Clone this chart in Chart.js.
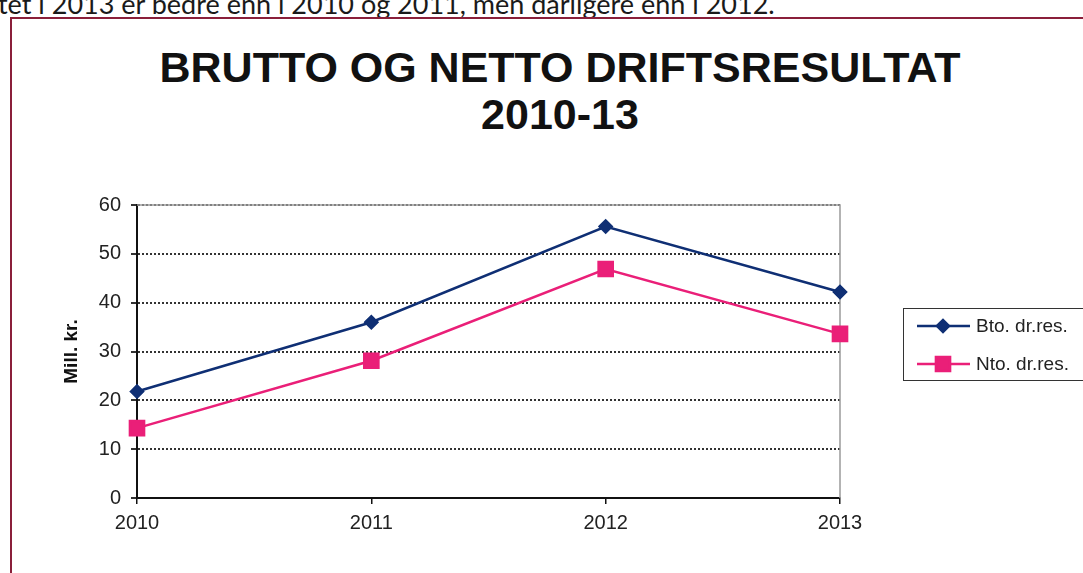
<!DOCTYPE html>
<html>
<head>
<meta charset="utf-8">
<script src="https://cdn.jsdelivr.net/npm/chart.js@4/dist/chart.umd.min.js"></script>
<style>
  body { margin: 0; background: #fff; }
  #page { position: relative; width: 1083px; height: 573px; overflow: hidden; }
  #intro {
    position: absolute; left: -2px; top: -10px; white-space: nowrap;
    font-family: Lato, 'Open Sans', sans-serif; font-size: 27px; line-height: 27px; color: #1a1a1a;
  }
  #frame {
    position: absolute; left: 10px; top: 17px; width: 1100px; height: 600px;
    border-left: 2px solid #8a1f3a; border-top: 2px solid #8a1f3a;
  }
  #title {
    position: absolute; left: 0; top: 44px; width: 1120px; text-align: center;
    font-family: 'Liberation Sans', Arial, sans-serif; font-weight: bold; font-size: 43px; line-height: 47px; color: #111;
  }
  #wrap { position: absolute; left: 0; top: 0; width: 1083px; height: 573px; }
</style>
</head>
<body>
<div id="page">
  <div id="intro">tet i 2013 er bedre enn i 2010 og 2011, men dårligere enn i 2012.</div>
  <div id="frame"></div>
  <div id="title">BRUTTO OG NETTO DRIFTSRESULTAT<br>2010-13</div>
  <div id="wrap"><canvas id="myChart"></canvas></div>
</div>
<script>
// Data
const years = ['2010', '2011', '2012', '2013']
const brutto = [21.8, 36.0, 55.6, 42.2]
const netto = [14.3, 28.1, 46.9, 33.6]
const seriesNames = ['Bto. dr.res.', 'Nto. dr.res.']
const yAxisTitle = 'Mill. kr.'

const FONT = "'Liberation Sans', Arial, sans-serif"

// Grey frame around the plot area (top and right)
const plotBorder = {
  id: 'plotBorder',
  beforeDatasetsDraw(chart) {
    const { ctx, chartArea: a } = chart
    ctx.save()
    ctx.strokeStyle = '#9a9a9a'
    ctx.lineWidth = 1.5
    ctx.beginPath()
    ctx.moveTo(a.left, a.top)
    ctx.lineTo(a.right, a.top)
    ctx.lineTo(a.right, a.bottom)
    ctx.stroke()
    ctx.restore()
  }
}

// Legend box with line + marker samples
const boxLegend = {
  id: 'boxLegend',
  afterDraw(chart) {
    const { ctx, chartArea: a } = chart
    const x0 = a.right + 63
    const y0 = 308
    ctx.save()
    ctx.strokeStyle = '#333'
    ctx.lineWidth = 1
    ctx.strokeRect(x0 + 0.5, y0 + 0.5, 200, 72)
    chart.data.datasets.forEach((ds, i) => {
      const y = y0 + 18 + i * 38
      ctx.strokeStyle = ds.borderColor
      ctx.lineWidth = 2.5
      ctx.beginPath()
      ctx.moveTo(x0 + 14, y)
      ctx.lineTo(x0 + 67, y)
      ctx.stroke()
      ctx.fillStyle = ds.backgroundColor
      Chart.helpers.drawPoint(ctx, {
        pointStyle: ds.pointStyle, radius: ds.pointRadius, borderWidth: 1, rotation: 0
      }, x0 + 40, y)
      ctx.fillStyle = '#222'
      ctx.font = '19px ' + FONT
      ctx.textBaseline = 'middle'
      ctx.fillText(ds.label, x0 + 73, y + 1)
    })
    ctx.restore()
  }
}

const ctx = document.getElementById('myChart').getContext('2d')
const myChart = new Chart(ctx, {
  type: 'line',
  data: {
    labels: years,
    datasets: [
      {
        label: seriesNames[0],
        data: brutto,
        borderColor: '#0f2f74',
        backgroundColor: '#0f2f74',
        borderWidth: 2.5,
        pointStyle: 'rectRot',
        pointRadius: 6,
        pointHoverRadius: 6,
        tension: 0
      },
      {
        label: seriesNames[1],
        data: netto,
        borderColor: '#ea1f78',
        backgroundColor: '#ea1f78',
        borderWidth: 2.5,
        pointStyle: 'rect',
        pointRadius: 10,
        pointHoverRadius: 10,
        tension: 0
      }
    ]
  },
  options: {
    responsive: true,
    maintainAspectRatio: false,
    animation: false,
    layout: { padding: { left: 56, top: 205, right: 243, bottom: 35 } },
    plugins: {
      legend: { display: false },
      title: { display: false },
      tooltip: { enabled: false }
    },
    scales: {
      x: {
        offset: false,
        grid: { drawOnChartArea: false, drawTicks: true, tickLength: 6, color: '#111', lineWidth: 1.5 },
        border: { color: '#111', width: 2 },
        ticks: { font: { family: FONT, size: 20 }, color: '#222', padding: 7, maxRotation: 0 },
        afterFit(scale) { scale.height = 40 }
      },
      y: {
        min: 0,
        max: 60,
        ticks: { stepSize: 10, font: { family: FONT, size: 20 }, color: '#222', padding: 10 },
        grid: { color: '#333', lineWidth: 2, tickLength: 6 },
        border: { color: '#111', width: 2, dash: [2, 2] },
        title: {
          display: true,
          text: yAxisTitle,
          font: { family: FONT, size: 19, weight: 'bold' },
          color: '#111'
        },
        afterFit(scale) { scale.width = 81 }
      }
    }
  },
  plugins: [plotBorder, boxLegend]
})
</script>
</body>
</html>
